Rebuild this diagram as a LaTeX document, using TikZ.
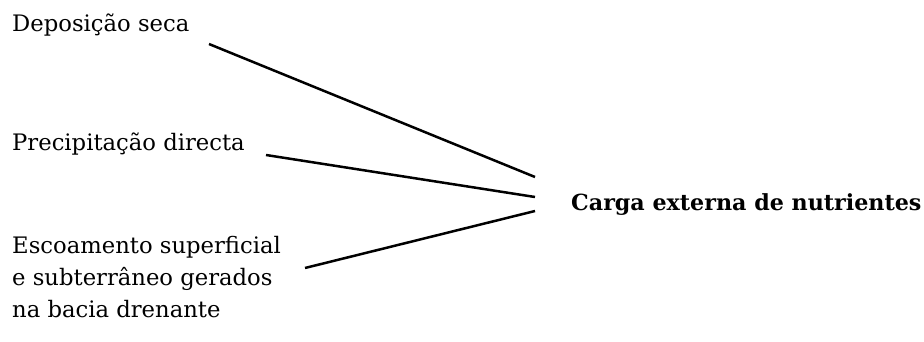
\documentclass[tikz,border=0pt]{standalone}
\usepackage{fontspec}
\setmainfont{DejaVu Serif}
\begin{document}
\begin{tikzpicture}[x=1pt,y=-1pt,
  lbl/.style={anchor=base west,inner sep=0pt,font=\fontsize{22.7}{22.7}\selectfont},
  res/.style={anchor=base west,inner sep=0pt,font=\fontsize{22.2}{22.2}\selectfont\bfseries},
  link/.style={line width=2.5pt,black}]
\useasboundingbox (0,0) rectangle (924,342);
\node[lbl] (dep) at (12,32) {Deposição seca};
\node[lbl] (pre) at (12,151) {Precipitação directa};
\node[lbl] (esc1) at (12,253) {Escoamento superficial};
\node[lbl] (esc2) at (12,285) {e subterrâneo gerados};
\node[lbl] (esc3) at (12,317) {na bacia drenante};
\node[res] (carga) at (571,210) {Carga externa de nutrientes};
\coordinate (s1) at (209,44);
\coordinate (s2) at (266,155);
\coordinate (s3) at (305,268);
\coordinate (e1) at (535,177);
\coordinate (e2) at (535,197);
\coordinate (e3) at (535,211);
\draw[link] (s1) -- (e1);
\draw[link] (s2) -- (e2);
\draw[link] (s3) -- (e3);
\end{tikzpicture}
\end{document}
